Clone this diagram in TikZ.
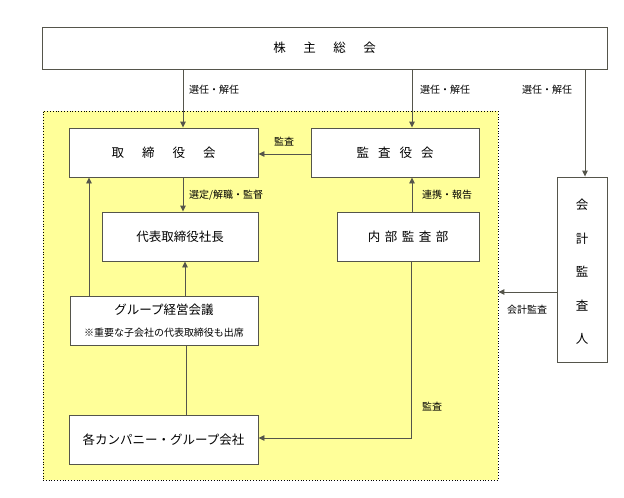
\documentclass[tikz,border=0pt]{standalone}
\usepackage{fontspec}
\setmainfont{Noto Sans CJK JP}
\usetikzlibrary{arrows.meta,calc}
\definecolor{ylw}{RGB}{255,255,153}
\definecolor{ln}{RGB}{85,85,75}
\begin{document}
\begin{tikzpicture}[x=1pt,y=-1pt,
  box/.style={draw=ln, line width=0.9pt, fill=white, inner sep=0pt, font=\fontsize{12.5}{15}\selectfont},
  txt/.style={inner sep=0pt, font=\fontsize{12.5}{15}\selectfont},
  small/.style={inner sep=0pt, font=\fontsize{10}{12}\selectfont},
  lbl/.style={inner sep=0pt, anchor=west, font=\fontsize{10}{12}\selectfont},
  arr/.style={draw=ln, line width=0.9pt, -{Triangle[length=6pt,width=5.5pt]}},
  conn/.style={draw=ln, line width=0.9pt}]
\useasboundingbox (0,0) rectangle (624,498);
% yellow area
\node[draw=black, dotted, line width=0.8pt, fill=ylw, inner sep=0pt, minimum width=455, minimum height=369] (area) at (270.5,295.5) {};
% boxes
\node[box, minimum width=565, minimum height=42] (top) at (324.5,48) {株\hspace{17.5pt}主\hspace{17.5pt}総\hspace{17.5pt}会};
\node[box, minimum width=189, minimum height=49] (tor) at (163.5,152.5) {取\hspace{18pt}締\hspace{18pt}役\hspace{18pt}会};
\node[box, minimum width=168, minimum height=49] (kan) at (395,152.5) {監\hspace{9pt}査\hspace{9pt}役\hspace{9pt}会};
\node[box, minimum width=156, minimum height=49] (dai) at (180,236.5) {代表取締役社長};
\node[box, minimum width=142, minimum height=49] (nai) at (408,236.5) {内\hspace{4.5pt}部\hspace{4.5pt}監\hspace{4.5pt}査\hspace{4.5pt}部};
\node[box, minimum width=188, minimum height=49] (grp) at (164,320.5) {};
\node[txt] (grp1) at (164,310) {グループ経営会議};
\node[small] (grp2) at (164,333) {※重要な子会社の代表取締役も出席};
\node[box, minimum width=189, minimum height=49] (com) at (163.5,439.5) {各カンパニー・グループ会社};
\node[box, minimum width=50, minimum height=185] (aud) at (582,269.5) {};
\node[txt, align=center, font=\fontsize{12.5}{33.5}\selectfont] (audt) at (582,272) {会\\計\\監\\査\\人};
% connectors
\draw[arr] (top.south -| 183,0) -- (tor.north -| 183,0);
\draw[arr] (top.south -| 412,0) -- (kan.north -| 412,0);
\draw[arr] (top.south -| 585,0) -- (aud.north -| 585,0);
\draw[arr] (kan.west |- 0,154) -- (tor.east |- 0,154);
\draw[arr] (tor.south -| 183,0) -- (dai.north -| 183,0);
\draw[arr] (nai.north -| 412,0) -- (kan.south -| 412,0);
\draw[arr] (grp.north -| 89,0) -- (tor.south -| 89,0);
\draw[arr] (grp.north -| 185,0) -- (dai.south -| 185,0);
\draw[conn] (grp.south -| 186,0) -- (com.north -| 186,0);
\draw[arr] (nai.south -| 411,0) |- (com.east |- 0,438);
\draw[arr] (aud.west |- 0,292) -- (area.east |- 0,292);
% labels
\node[lbl] (l1) at (189,90) {選任・解任};
\node[lbl] (l2) at (420,90) {選任・解任};
\node[lbl] (l3) at (522,90) {選任・解任};
\node[lbl, anchor=center] (l4) at (284,142) {監査};
\node[lbl] (l5) at (189,195) {選定/解職・監督};
\node[lbl] (l6) at (422,195) {連携・報告};
\node[lbl, anchor=center] (l7) at (527,310) {会計監査};
\node[lbl, anchor=center] (l8) at (432,407) {監査};
\end{tikzpicture}
\end{document}
